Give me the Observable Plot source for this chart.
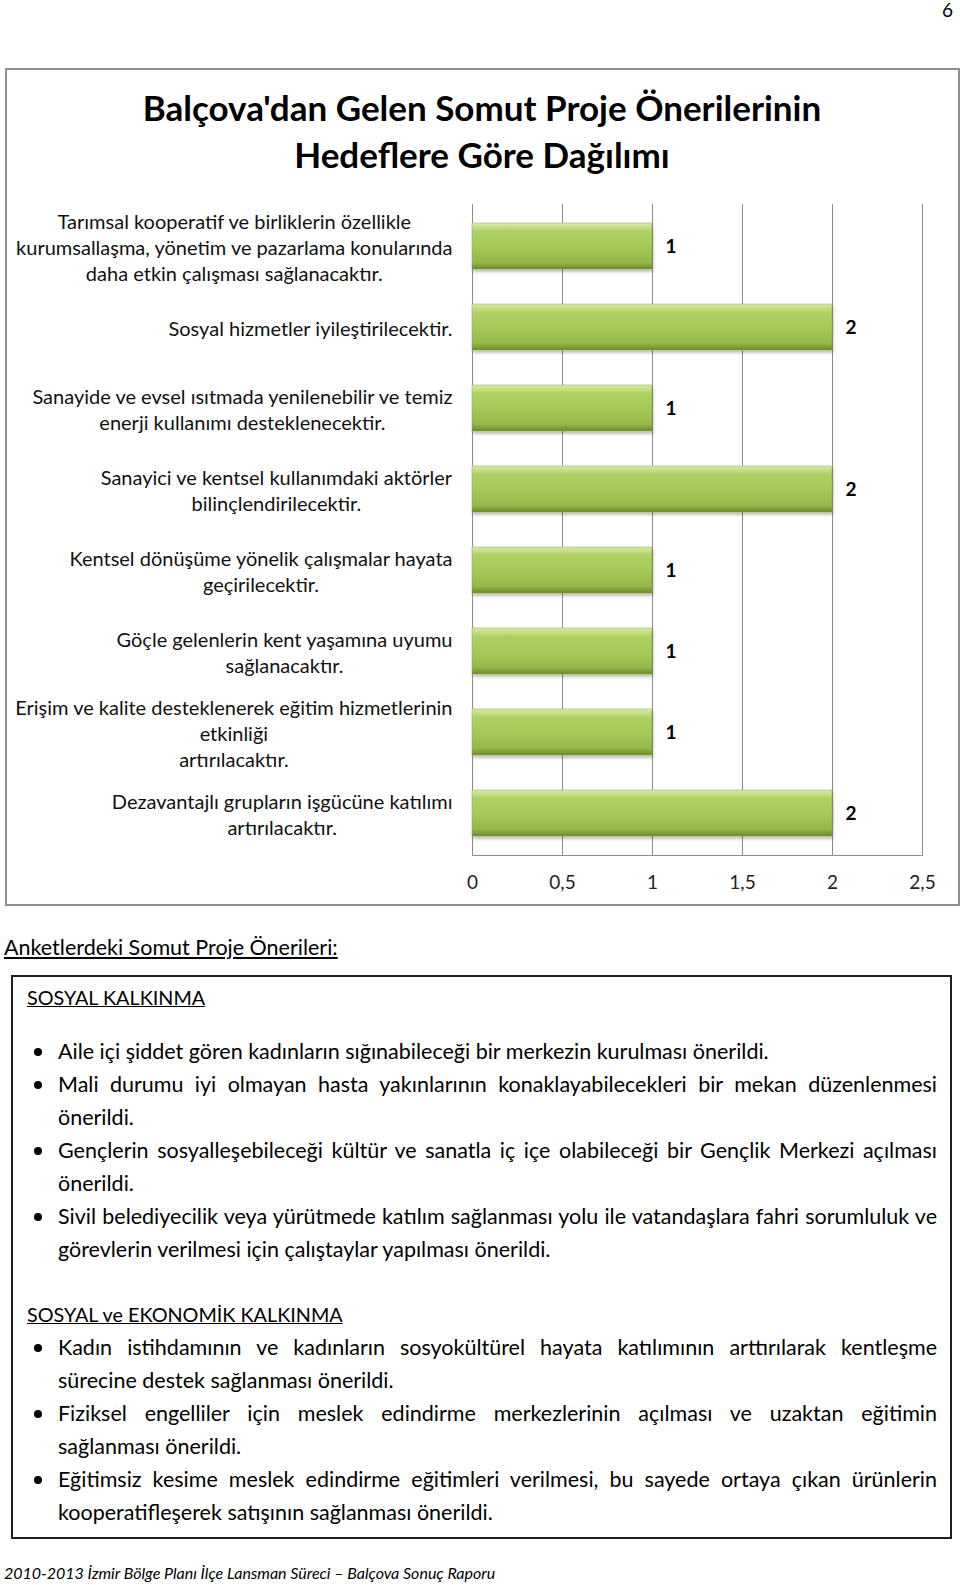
<!DOCTYPE html>
<html>
<head>
<meta charset="utf-8">
<script src="https://cdn.jsdelivr.net/npm/d3@7"></script>
<script src="https://cdn.jsdelivr.net/npm/@observablehq/plot@0.6"></script>
<style>
html,body{margin:0;padding:0;background:#fff;}
body{width:960px;height:1585px;position:relative;overflow:hidden;font-family:Lato,"Open Sans",sans-serif;color:#000;}
#pagenum{position:absolute;right:7px;top:0px;font-size:19px;line-height:19px;}
#chartframe{position:absolute;left:5px;top:68px;width:955px;height:838px;box-sizing:border-box;border:2px solid #8f8f8f;}
#title{position:absolute;left:0;top:84px;width:964px;text-align:center;font-weight:bold;font-size:35px;line-height:47px;}
#chart{position:absolute;left:0;top:180px;}
#intro{position:absolute;left:4px;top:931px;font-size:21.5px;line-height:33px;text-decoration:underline;white-space:nowrap;}
#box{position:absolute;left:11px;top:975px;width:941px;height:564px;box-sizing:border-box;border:2px solid #1e1e1e;padding:4px 13px 0 14px;font-size:21.5px;line-height:33px;}
.h{text-decoration:underline;white-space:nowrap;font-size:19.8px;}
.list{margin-left:31px;}
.item{position:relative;}
.item::before{content:"";position:absolute;left:-24px;top:13px;width:8px;height:8px;border-radius:50%;background:#000;}
.ln{text-align:justify;white-space:nowrap;}
.ln.j{text-align-last:justify;}
#footer{position:absolute;left:4px;top:1563px;font-size:16px;line-height:20px;font-style:italic;white-space:nowrap;}
</style>
</head>
<body>
<div id="pagenum">6</div>
<div id="chartframe"></div>
<div id="title"></div>
<div id="chart"></div>
<div id="intro"></div>
<div id="box"></div>
<div id="footer"></div>
<script>
// ---------- chart data ----------
const titleLines = ["Balçova'dan Gelen Somut Proje Önerilerinin", "Hedeflere Göre Dağılımı"];
const categories = [
  "Tarımsal kooperatif ve birliklerin özellikle\nkurumsallaşma, yönetim ve pazarlama konularında\ndaha etkin çalışması sağlanacaktır.",
  "Sosyal hizmetler iyileştirilecektir.",
  "Sanayide ve evsel ısıtmada yenilenebilir ve temiz\nenerji kullanımı desteklenecektir.",
  "Sanayici ve kentsel kullanımdaki aktörler\nbilinçlendirilecektir.",
  "Kentsel dönüşüme yönelik çalışmalar hayata\ngeçirilecektir.",
  "Göçle gelenlerin kent yaşamına uyumu\nsağlanacaktır.",
  "Erişim ve kalite desteklenerek eğitim hizmetlerinin\netkinliği\nartırılacaktır.",
  "Dezavantajlı grupların işgücüne katılımı\nartırılacaktır."
];
const values = [1, 2, 1, 2, 1, 1, 1, 2];
const xTicks = [0, 0.5, 1, 1.5, 2, 2.5];
const xTickLabels = ["0", "0,5", "1", "1,5", "2", "2,5"];

// ---------- page text ----------
const pageNumber = "6";
const introText = "Anketlerdeki Somut Proje Önerileri:";
const heading1 = "SOSYAL KALKINMA";
const items1 = [
  ["Aile içi şiddet gören kadınların sığınabileceği bir merkezin kurulması önerildi."],
  ["Mali durumu iyi olmayan hasta yakınlarının konaklayabilecekleri bir mekan düzenlenmesi", "önerildi."],
  ["Gençlerin sosyalleşebileceği kültür ve sanatla iç içe olabileceği bir Gençlik Merkezi açılması", "önerildi."],
  ["Sivil belediyecilik veya yürütmede katılım sağlanması yolu ile vatandaşlara fahri sorumluluk ve", "görevlerin verilmesi için çalıştaylar yapılması önerildi."]
];
const heading2 = "SOSYAL ve EKONOMİK KALKINMA";
const items2 = [
  ["Kadın istihdamının ve kadınların sosyokültürel hayata katılımının arttırılarak kentleşme", "sürecine destek sağlanması önerildi."],
  ["Fiziksel engelliler için meslek edindirme merkezlerinin açılması ve uzaktan eğitimin", "sağlanması önerildi."],
  ["Eğitimsiz kesime meslek edindirme eğitimleri verilmesi, bu sayede ortaya çıkan ürünlerin", "kooperatifleşerek satışının sağlanması önerildi."]
];
const footerText = "2010-2013 İzmir Bölge Planı İlçe Lansman Süreci – Balçova Sonuç Raporu";

// ---------- build page text ----------
document.getElementById("pagenum").textContent = pageNumber;
document.getElementById("title").innerHTML = titleLines.map(t => `<div>${t}</div>`).join("");
document.getElementById("intro").textContent = introText;
document.getElementById("footer").textContent = footerText;
function buildList(items, marginTop) {
  const ul = document.createElement("div");
  ul.className = "list";
  ul.style.marginTop = marginTop + "px";
  for (const lines of items) {
    const it = document.createElement("div");
    it.className = "item";
    lines.forEach((l, i) => {
      const d = document.createElement("div");
      d.className = "ln" + (i < lines.length - 1 ? " j" : "");
      d.textContent = l;
      it.appendChild(d);
    });
    ul.appendChild(it);
  }
  return ul;
}
const box = document.getElementById("box");
const h1 = document.createElement("div"); h1.className = "h"; h1.textContent = heading1; box.appendChild(h1);
box.appendChild(buildList(items1, 21));
const h2 = document.createElement("div"); h2.className = "h"; h2.style.marginTop = "32px"; h2.textContent = heading2; box.appendChild(h2);
box.appendChild(buildList(items2, 0));

// ---------- chart ----------
const data = categories.map((label, i) => ({label, value: values[i]}));
const fmt = d => xTickLabels[xTicks.indexOf(d)];
const chart = Plot.plot({
  width: 960,
  height: 724,
  marginLeft: 472,
  marginRight: 38,
  marginTop: 24,
  marginBottom: 49,
  style: {fontFamily: "Lato, 'Open Sans', sans-serif", fontSize: "19px", color: "#000", background: "transparent", overflow: "visible"},
  x: {domain: [0, 2.5], label: null},
  y: {domain: categories, paddingInner: 0.436, paddingOuter: 0.218, label: null},
  marks: [
    Plot.ruleX(xTicks, {stroke: "#8c8c8c", strokeWidth: 1}),
    Plot.frame({anchor: "bottom", stroke: "#8c8c8c", strokeWidth: 1}),
    Plot.barX(data, {x: "value", y: "label", fill: "url(#barGrad)", stroke: "#7f9f3c", strokeOpacity: 0.5, strokeWidth: 0.8}),
    Plot.text(data, {x: "value", y: "label", text: d => String(d.value), textAnchor: "start", dx: 13, fontWeight: "bold", fontSize: 19, fill: "#000"}),
    Plot.axisX({ticks: xTicks, tickFormat: fmt, tickSize: 0, tickPadding: 20, fontSize: 19, fill: "#222", label: null}),
    Plot.axisY({tickSize: 0, tickPadding: 20, textAnchor: "end", lineWidth: 1000, lineHeight: 1.29, fontSize: 20, fill: "#111", label: null})
  ]
});
document.getElementById("chart").appendChild(chart);

const svg = d3.select(chart);
svg.insert("defs", ":first-child").html(`
  <linearGradient id="barGrad" x1="0" y1="0" x2="0" y2="1">
    <stop offset="0" stop-color="#d7eba0"/>
    <stop offset="0.10" stop-color="#c2de7e"/>
    <stop offset="0.18" stop-color="#aed163"/>
    <stop offset="0.55" stop-color="#a3c857"/>
    <stop offset="0.85" stop-color="#94b94a"/>
    <stop offset="0.93" stop-color="#809f3b"/>
    <stop offset="1" stop-color="#6e8a30"/>
  </linearGradient>
  <filter id="barShadow" x="-5%" y="-20%" width="110%" height="150%">
    <feDropShadow dx="1" dy="2.5" stdDeviation="1.6" flood-color="#000" flood-opacity="0.28"/>
  </filter>`);
svg.selectAll('g[aria-label="bar"]').attr("filter", "url(#barShadow)");

// center each multi-line y label on itself, block right-aligned at the tick padding
svg.selectAll('g[aria-label="y-axis tick label"] text').each(function() {
  const w = this.getBBox().width;
  this.setAttribute("text-anchor", "middle");
  const t = this.getAttribute("transform") || "";
  this.setAttribute("transform", `translate(${-w / 2},0) ${t}`);
});
</script>
</body>
</html>
